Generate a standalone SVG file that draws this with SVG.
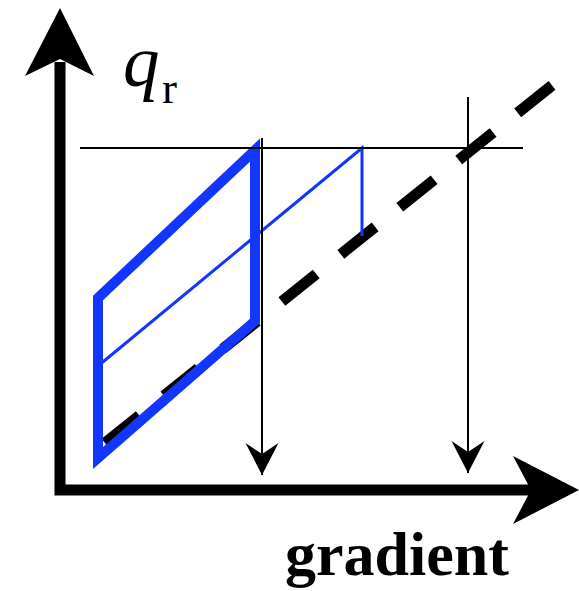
<svg xmlns="http://www.w3.org/2000/svg" width="579" height="591" viewBox="0 0 579 591">
  <style>
    .axis { fill: none; stroke: #000; stroke-width: 11; stroke-linejoin: miter; }
    .head { fill: #000; stroke: none; }
    .thin { fill: none; stroke: #000; stroke-width: 2; }
    .dash { fill: none; stroke: #000; stroke-width: 11; stroke-dasharray: 44 31.5; }
    .blue-thick { fill: none; stroke: #1236ff; stroke-width: 10; stroke-linejoin: miter; }
    .blue-thin { fill: none; stroke: #1236ff; stroke-width: 3; }
    .lbl { font-family: "Liberation Serif", "Times New Roman", serif; fill: #000; }
  </style>
  <defs>
    <marker id="thinArrow" markerUnits="userSpaceOnUse" viewBox="-34 -18 36 36" refX="0" refY="0" markerWidth="36" markerHeight="36" orient="auto">
      <path d="M0,0 L-32,-16.5 L-21,0 L-32,16.5 Z" fill="#000"/>
    </marker>
  </defs>

  <g id="axes">
    <path class="axis" d="M60,62 V490 H533"/>
    <polygon class="head" points="60,8 25,76 60,59 94,76"/>
    <polygon class="head" points="579,490 513,456 531,490 513,524"/>
  </g>

  <g id="label-qr">
    <text class="lbl" x="123" y="86" font-size="73" font-style="italic">q</text>
    <text class="lbl" x="162" y="103" font-size="45">r</text>
  </g>

  <g id="label-gradient">
    <text class="lbl" x="285" y="575" font-size="62" font-weight="bold">gradient</text>
  </g>

  <g id="dashed-line">
    <line class="dash" x1="105" y1="443" x2="553" y2="84.6"/>
  </g>

  <g id="hysteresis">
    <polygon class="blue-thick" points="98,298 255,150 255,321 98,458"/>
    <polyline class="blue-thin" points="98,366 362,148 362,236"/>
  </g>

  <g id="connectors">
    <line class="thin" x1="80" y1="148" x2="523" y2="148"/>
    <line class="thin" x1="262" y1="138" x2="262" y2="475" marker-end="url(#thinArrow)"/>
    <line class="thin" x1="468" y1="97" x2="468" y2="473" marker-end="url(#thinArrow)"/>
  </g>
</svg>
